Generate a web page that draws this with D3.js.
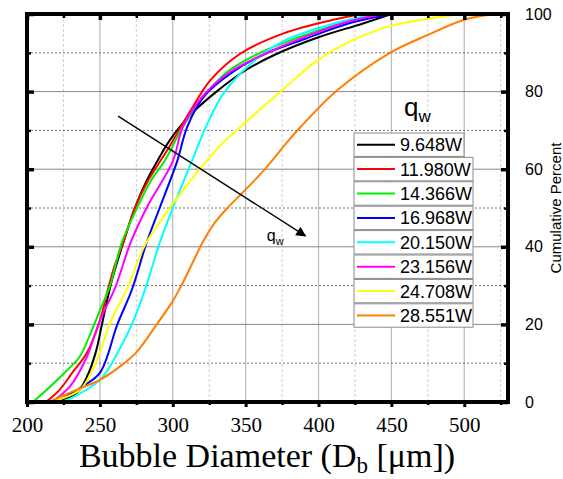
<!DOCTYPE html>
<html>
<head>
<meta charset="utf-8">
<script src="https://cdn.jsdelivr.net/npm/d3@7"></script>
<style>
  body { margin: 0; background: #fff; }
  svg { display: block; }
</style>
</head>
<body>
<div id="chart"></div>
<script>
// Series: [diameter um, cumulative %]
const seriesNames = ["9.648W", "11.980W", "14.366W", "16.968W", "20.150W", "23.156W", "24.708W", "28.551W"];
const seriesColors = ["#000000", "#ff0000", "#00ee00", "#0000ff", "#00ffff", "#ff00ff", "#ffff00", "#ff8000"];

const black = [[218,0],[234,2.3],[241,6.4],[247,12.6],[252,21],[258,31],[266,41],[274,50],[282,57],[290,62.5],[298,67.5],[312,74],[330,80],[350,85.5],[370,89.5],[400,94],[430,97.5],[450,100]];
const red = [[213,0],[222,3],[231,7.5],[241,12.6],[250,21],[255.5,29],[260,35],[266,41],[274,50],[283,57],[293,63],[298,66],[312,75],[326,83],[346,89.7],[376,95],[410,98.5],[430,100]];
const green = [[204,0],[216,4],[227,8],[236,11.6],[245,19],[251,24.5],[257,30],[265,41],[275.5,50],[285,57],[295,62.5],[307,71],[321,78.6],[337,85],[360,90],[394,95],[420,98],[445,100]];
const blue = [[220,0],[238,4],[250,7.5],[262,20],[272,29],[282,41],[291,50],[303,62],[310,71],[322,79],[341,85],[362,89.5],[390,93.5],[420,97.5],[450,100]];
const cyan = [[225,0],[250,5.7],[264,14],[273,21],[281,29],[291,41],[300,50],[313,62],[323.6,71.6],[334.6,79.4],[353,87],[376,93],[410,97.5],[440,100]];
const magenta = [[217,0],[229.5,4],[241,11.6],[250,21],[260.5,29.5],[271,41],[282,50],[300,62],[307,71],[321,79],[339,85],[362,89.5],[390,94],[420,98],[445,100]];
const yellow = [[215,0],[236,3],[248,10.8],[257,20.4],[269,29.5],[281,40.5],[298,50],[310,56],[323,62],[335,67],[351,72.4],[374,80],[399,88],[422,93],[433,94.8],[450,97],[475,98.8],[500,100]];
const orange = [[215,0],[230,2.5],[250,5.7],[265,9.5],[275.5,13],[289,20],[300,26],[307,30.8],[314,36.2],[321,41.5],[328,45.8],[337,49.8],[348,54],[362,59.5],[378.5,67],[388,71],[413,80.4],[449,90],[475,94.6],[500,98.5],[520,100]];
const allSeries = [black, red, green, blue, cyan, magenta, yellow, orange];

const xTicks = [200, 250, 300, 350, 400, 450, 500];
const xMinor = [225, 275, 325, 375, 425, 475, 525];
const yTicks = [0, 20, 40, 60, 80, 100];
const yMinor = [10, 30, 50, 70, 90];

// arrow annotation in data units: start, end
const arrowPts = [[262.5, 73.7], [391, 42.8]];

const W = 563, H = 479;
const margin = {top: 14, right: 55, bottom: 77, left: 27};

const svg = d3.select("#chart").append("svg")
    .attr("width", W).attr("height", H);

const x = d3.scaleLinear().domain([200, 530]).range([margin.left, W - margin.right]);
const y = d3.scaleLinear().domain([0, 100]).range([H - margin.bottom, margin.top]);

// grid
const grid = svg.append("g");
grid.selectAll(".vmin").data(xMinor.filter(d => d < 530)).join("line")
    .attr("x1", d => x(d)).attr("x2", d => x(d))
    .attr("y1", y(0)).attr("y2", y(100))
    .attr("stroke", "#d0d0d0").attr("stroke-dasharray", "3,2");
grid.selectAll(".vmaj").data(xTicks.slice(1)).join("line")
    .attr("x1", d => x(d)).attr("x2", d => x(d))
    .attr("y1", y(0)).attr("y2", y(100))
    .attr("stroke", "#bdbdbd").attr("stroke-width", 1.3);
grid.selectAll(".hmin").data(yMinor).join("line")
    .attr("x1", x(200)).attr("x2", x(530))
    .attr("y1", d => y(d)).attr("y2", d => y(d))
    .attr("stroke", "#777").attr("stroke-dasharray", "2,2");
grid.selectAll(".hmaj").data(yTicks.slice(1, -1)).join("line")
    .attr("x1", x(200)).attr("x2", x(530))
    .attr("y1", d => y(d)).attr("y2", d => y(d))
    .attr("stroke", "#888");

// curves
const line = d3.line()
    .x(d => x(d[0]))
    .y(d => y(d[1]))
    .curve(d3.curveCatmullRom.alpha(0.5));

const clipId = "plotclip";
svg.append("clipPath").attr("id", clipId).append("rect")
    .attr("x", x(200)).attr("y", y(100))
    .attr("width", x(530) - x(200)).attr("height", y(0) - y(100));

svg.append("g").attr("clip-path", `url(#${clipId})`)
    .selectAll("path").data(allSeries).join("path")
    .attr("d", line)
    .attr("fill", "none")
    .attr("stroke", (d, i) => seriesColors[i])
    .attr("stroke-width", 2);

// arrow
svg.append("defs").append("marker")
    .attr("id", "arrowhead")
    .attr("viewBox", "0 0 10 10")
    .attr("refX", 9).attr("refY", 5)
    .attr("markerWidth", 14).attr("markerHeight", 10)
    .attr("markerUnits", "userSpaceOnUse")
    .attr("orient", "auto")
    .append("path").attr("d", "M0,0 L10,5 L0,10 Z").attr("fill", "#000");

svg.append("line")
    .attr("x1", x(arrowPts[0][0])).attr("y1", y(arrowPts[0][1]))
    .attr("x2", x(arrowPts[1][0])).attr("y2", y(arrowPts[1][1]))
    .attr("stroke", "#000").attr("stroke-width", 1.4)
    .attr("marker-end", "url(#arrowhead)");

const qLabel = svg.append("text")
    .attr("x", x(364.5)).attr("y", y(41.5))
    .style("font-family", "'Liberation Sans', Arial, sans-serif")
    .style("font-size", "16px");
qLabel.append("tspan").text("q");
qLabel.append("tspan").attr("dy", 4).style("font-size", "11px").text("w");

// frame
svg.append("rect")
    .attr("x", x(200)).attr("y", y(100))
    .attr("width", x(530) - x(200)).attr("height", y(0) - y(100))
    .attr("fill", "none").attr("stroke", "#000").attr("stroke-width", 4);

// axes
const axBottom = svg.append("g")
    .attr("transform", `translate(0,${y(0)})`)
    .call(d3.axisBottom(x).tickValues(xTicks).tickSize(5).tickPadding(10));
axBottom.selectAll(".tick line").attr("stroke-width", 3);
axBottom.selectAll(".tick text")
    .style("font-family", "'Liberation Serif', 'Times New Roman', serif")
    .style("font-size", "21px").attr("fill", "#000");

svg.append("g").attr("transform", `translate(0,${y(0)})`)
    .call(d3.axisBottom(x).tickValues(xMinor).tickSize(3).tickFormat(""))
    .selectAll(".tick line").attr("stroke-width", 2.5);

const axTop = svg.append("g")
    .attr("transform", `translate(0,${y(100)})`)
    .call(d3.axisTop(x).tickValues(xTicks).tickSize(-6).tickFormat(""));
axTop.selectAll(".tick line").attr("stroke-width", 3.5);
svg.append("g").attr("transform", `translate(0,${y(100)})`)
    .call(d3.axisTop(x).tickValues(xMinor).tickSize(-4).tickFormat(""))
    .selectAll(".tick line").attr("stroke-width", 2.5);

const axLeft = svg.append("g")
    .attr("transform", `translate(${x(200)},0)`)
    .call(d3.axisLeft(y).tickValues(yTicks).tickSize(-7).tickFormat(""));
axLeft.selectAll(".tick line").attr("stroke-width", 3.5);
svg.append("g").attr("transform", `translate(${x(200)},0)`)
    .call(d3.axisLeft(y).tickValues(yMinor).tickSize(-4).tickFormat(""))
    .selectAll(".tick line").attr("stroke-width", 2.5);

const axRight = svg.append("g")
    .attr("transform", `translate(${x(530)},0)`)
    .call(d3.axisRight(y).tickValues(yTicks).tickSize(-7).tickPadding(17));
axRight.selectAll(".tick line").attr("stroke-width", 3.5);
axRight.selectAll(".tick text")
    .style("font-family", "'Liberation Sans', Arial, sans-serif")
    .style("font-size", "16px").attr("fill", "#000");
svg.append("g").attr("transform", `translate(${x(530)},0)`)
    .call(d3.axisRight(y).tickValues(yMinor).tickSize(-4).tickFormat(""))
    .selectAll(".tick line").attr("stroke-width", 2.5);

svg.selectAll(".domain").remove();

// axis titles
const xt = svg.append("text")
    .attr("x", 267).attr("y", 467)
    .attr("text-anchor", "middle")
    .style("font-family", "'Liberation Serif', 'Times New Roman', serif")
    .style("font-size", "34px");
xt.append("tspan").text("Bubble Diameter (D");
xt.append("tspan").attr("dy", 6).style("font-size", "23px").text("b");
xt.append("tspan").attr("dy", -6).text(" [μm])");

svg.append("text")
    .attr("transform", `translate(561,${y(50)}) rotate(-90)`)
    .attr("text-anchor", "middle")
    .style("font-family", "'Liberation Sans', Arial, sans-serif")
    .style("font-size", "15px")
    .text("Cumulative Percent");

// legend
const lg = svg.append("g");
const lt = lg.append("text")
    .attr("x", 404).attr("y", 116)
    .style("font-family", "'Liberation Sans', Arial, sans-serif")
    .style("font-size", "26px");
lt.append("tspan").text("q");
lt.append("tspan").attr("dy", 6).style("font-size", "17px").text("w");

const rowH = 24.4, lgTop = 133, lgLeft = 354;
const rows = lg.selectAll(".row").data(seriesNames).join("g")
    .attr("transform", (d, i) => `translate(${lgLeft},${lgTop + i * rowH})`);
rows.append("rect")
    .attr("width", (d, i) => i === 0 ? 110 : 119)
    .attr("height", rowH - 1)
    .attr("fill", "#fff").attr("stroke", "#8a8a8a").attr("stroke-width", 1);
rows.append("line")
    .attr("x1", 3).attr("x2", 41)
    .attr("y1", (rowH - 1) / 2).attr("y2", (rowH - 1) / 2)
    .attr("stroke", (d, i) => seriesColors[i]).attr("stroke-width", 2);
rows.append("text")
    .attr("x", 46).attr("y", (rowH - 1) / 2 + 6.5)
    .style("font-family", "'Liberation Sans', Arial, sans-serif")
    .style("font-size", "18px")
    .text(d => d);
</script>
</body>
</html>
